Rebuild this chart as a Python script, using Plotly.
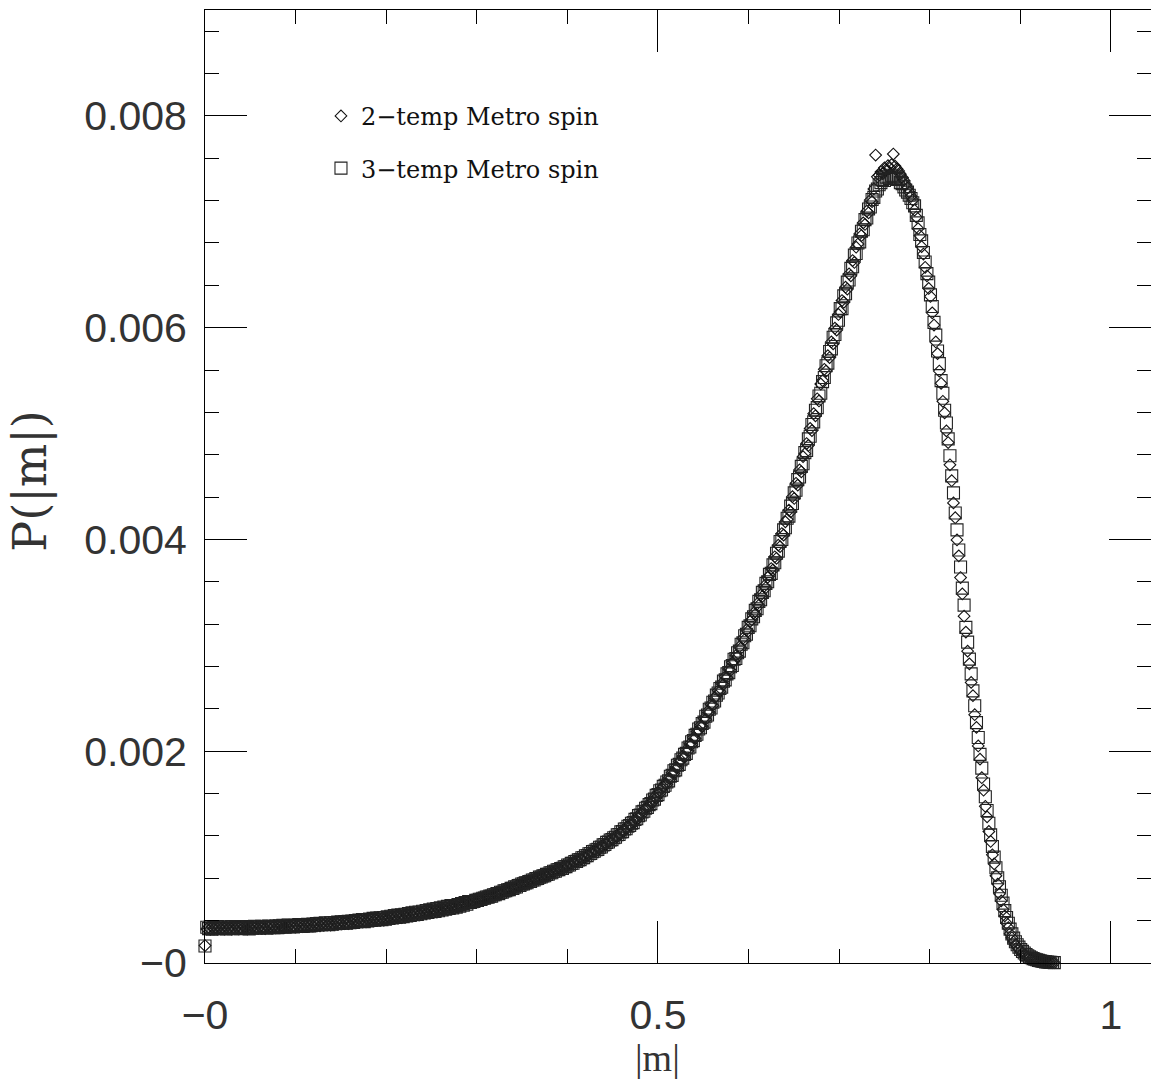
import plotly.graph_objects as go

# |M| = total magnetisation of a 32x32 (1024-spin) lattice; |m| = |M| / 1024
M_values = list(range(0, 962, 2))
N_spins = 1024

# P(|m|), in units of 1e-6
p_2temp_e6 = [
    165, 322, 336, 318, 340, 327, 334, 321, 339, 325,
    336, 320, 341, 326, 333, 319, 338, 328, 342, 323,
    335, 324, 340, 329, 321, 337, 330, 343, 326, 338,
    328, 344, 331, 339, 325, 346, 333, 349, 336, 342,
    331, 347, 336, 352, 339, 333, 350, 342, 355, 338,
    352, 340, 358, 345, 361, 343, 356, 349, 364, 347,
    361, 349, 366, 354, 370, 351, 368, 358, 374, 360,
    372, 358, 378, 363, 384, 366, 381, 370, 388, 373,
    386, 372, 392, 377, 398, 382, 396, 385, 403, 388,
    402, 389, 409, 394, 415, 398, 413, 402, 420, 406,
    421, 405, 428, 412, 434, 416, 439, 421, 444, 427,
    445, 429, 451, 436, 458, 440, 463, 446, 469, 452,
    471, 455, 478, 461, 486, 467, 492, 473, 499, 480,
    501, 484, 509, 491, 517, 498, 525, 505, 532, 512,
    535, 517, 546, 526, 557, 537, 567, 548, 578, 561,
    576, 574, 586, 584, 597, 595, 607, 605, 618, 620,
    627, 624, 638, 636, 650, 648, 662, 660, 674, 677,
    686, 684, 699, 697, 712, 709, 726, 723, 739, 741,
    751, 749, 765, 762, 778, 775, 791, 788, 804, 806,
    817, 813, 831, 828, 845, 842, 859, 857, 874, 876,
    886, 884, 902, 899, 918, 914, 934, 931, 950, 953,
    967, 963, 986, 982, 1005, 1001, 1024, 1020, 1043, 1047,
    1062, 1058, 1084, 1079, 1106, 1101, 1128, 1124, 1150, 1155,
    1172, 1168, 1199, 1194, 1226, 1222, 1253, 1248, 1280, 1286,
    1307, 1302, 1342, 1336, 1377, 1371, 1412, 1406, 1447, 1455,
    1482, 1477, 1525, 1519, 1567, 1560, 1609, 1603, 1651, 1660,
    1692, 1686, 1745, 1738, 1797, 1790, 1849, 1843, 1902, 1912,
    1953, 1946, 2012, 2004, 2070, 2063, 2128, 2121, 2186, 2197,
    2243, 2235, 2310, 2302, 2376, 2368, 2442, 2434, 2508, 2521,
    2573, 2565, 2640, 2631, 2706, 2697, 2772, 2763, 2838, 2851,
    2903, 2894, 2985, 2975, 3065, 3055, 3145, 3135, 3225, 3242,
    3304, 3293, 3390, 3378, 3474, 3462, 3558, 3546, 3642, 3660,
    3725, 3712, 3836, 3822, 3946, 3932, 4056, 4042, 4166, 4190,
    4276, 4260, 4404, 4387, 4530, 4513, 4656, 4639, 4782, 4810,
    4906, 4888, 5048, 5028, 5188, 5168, 5328, 5308, 5468, 5500,
    5607, 5590, 5735, 5718, 5865, 5848, 5995, 5978, 6125, 6150,
    6256, 6240, 6382, 6365, 6508, 6490, 6634, 6616, 6760, 6790,
    6885, 6870, 6990, 6975, 7100, 7085, 7205, 7190, 7310, 7630,
    7425, 7440, 7470, 7455, 7510, 7490, 7530, 7505, 7540, 7640,
    7525, 7500, 7480, 7450, 7420, 7390, 7350, 7320, 7280, 7240,
    7205, 7110, 7045, 6935, 6870, 6765, 6695, 6570, 6490, 6370,
    6295, 6140, 6025, 5865, 5755, 5590, 5475, 5305, 5195, 5025,
    4915, 4705, 4555, 4345, 4205, 3995, 3845, 3640, 3485, 3275,
    3125, 2945, 2825, 2650, 2525, 2345, 2225, 2050, 1925, 1750,
    1632, 1480, 1380, 1242, 1148, 1022, 936, 824, 746, 654,
    586, 505, 445, 376, 334, 277, 238, 198, 172, 148,
    132, 109, 96, 79, 69, 56, 49, 39, 35, 28,
    25, 21, 17, 14, 12, 10, 8, 6, 5, 4,
    3,
]

p_3temp_e6 = [
    160, 338, 325, 342, 320, 335, 329, 344, 323, 337,
    326, 343, 322, 338, 329, 345, 324, 336, 330, 344,
    323, 339, 327, 345, 334, 322, 341, 331, 347, 328,
    343, 330, 347, 335, 341, 329, 350, 337, 345, 333,
    348, 334, 351, 340, 356, 337, 345, 359, 343, 353,
    341, 357, 346, 362, 351, 345, 363, 352, 366, 350,
    353, 369, 356, 372, 359, 375, 361, 366, 380, 364,
    362, 379, 366, 383, 370, 386, 374, 390, 377, 392,
    375, 393, 380, 397, 384, 402, 389, 405, 393, 410,
    391, 410, 396, 416, 401, 421, 405, 425, 410, 428,
    410, 430, 414, 436, 420, 441, 425, 447, 431, 452,
    433, 455, 438, 461, 444, 467, 450, 473, 456, 479,
    458, 482, 465, 489, 472, 496, 478, 503, 485, 509,
    488, 514, 494, 521, 501, 528, 508, 535, 515, 542,
    520, 542, 528, 553, 537, 562, 546, 572, 556, 580,
    572, 580, 581, 591, 591, 602, 601, 612, 613, 623,
    622, 632, 632, 644, 644, 656, 655, 668, 668, 681,
    682, 692, 693, 705, 705, 719, 718, 732, 733, 746,
    747, 757, 758, 770, 771, 784, 784, 797, 798, 811,
    812, 823, 824, 837, 838, 852, 852, 866, 867, 881,
    882, 893, 894, 909, 910, 925, 925, 941, 942, 958,
    960, 974, 976, 994, 995, 1013, 1014, 1032, 1034, 1052,
    1055, 1070, 1073, 1093, 1096, 1116, 1119, 1139, 1142, 1162,
    1165, 1183, 1187, 1211, 1214, 1238, 1241, 1265, 1268, 1292,
    1298, 1320, 1326, 1356, 1362, 1392, 1397, 1427, 1433, 1462,
    1470, 1496, 1505, 1540, 1548, 1583, 1590, 1626, 1634, 1668,
    1678, 1710, 1720, 1763, 1772, 1815, 1824, 1867, 1876, 1920,
    1935, 1970, 1980, 2030, 2040, 2090, 2100, 2150, 2160, 2210,
    2222, 2262, 2275, 2330, 2342, 2396, 2408, 2462, 2474, 2530,
    2550, 2592, 2605, 2662, 2674, 2730, 2742, 2798, 2810, 2868,
    2875, 2930, 2945, 3010, 3025, 3090, 3105, 3170, 3185, 3250,
    3270, 3330, 3345, 3415, 3430, 3500, 3515, 3585, 3600, 3670,
    3680, 3760, 3780, 3870, 3890, 3980, 4000, 4090, 4110, 4200,
    4220, 4315, 4340, 4440, 4465, 4565, 4590, 4690, 4715, 4820,
    4840, 4950, 4975, 5085, 5110, 5220, 5245, 5355, 5380, 5490,
    5530, 5640, 5665, 5775, 5800, 5910, 5935, 6045, 6070, 6180,
    6180, 6300, 6320, 6430, 6450, 6560, 6575, 6685, 6700, 6800,
    6810, 6910, 6925, 7020, 7035, 7120, 7140, 7210, 7230, 7290,
    7310, 7350, 7370, 7400, 7390, 7420, 7430, 7410, 7440, 7420,
    7430, 7400, 7410, 7370, 7360, 7330, 7300, 7280, 7250, 7220,
    7180, 7150, 7060, 6990, 6880, 6820, 6710, 6620, 6510, 6430,
    6310, 6200, 6050, 5930, 5780, 5660, 5500, 5380, 5220, 5100,
    4950, 4790, 4600, 4440, 4250, 4090, 3900, 3740, 3540, 3380,
    3170, 3030, 2870, 2730, 2570, 2430, 2270, 2130, 1970, 1840,
    1690, 1570, 1440, 1320, 1210, 1100, 1000, 900, 805, 720,
    640, 565, 495, 430, 375, 320, 275, 235, 200, 172,
    150, 128, 110, 94, 80, 68, 58, 49, 41, 35,
    30, 25, 21, 17, 14, 11, 9, 7, 6, 5,
    4,
]

series_names = ["2\u2212temp Metro spin", "3\u2212temp Metro spin"]
x_tickvals = [0, 0.5, 1]
x_ticktext = ["\u22120", "0.5", "1"]
y_tickvals = [0, 0.002, 0.004, 0.006, 0.008]
y_ticktext = ["\u22120", "0.002", "0.004", "0.006", "0.008"]
x_title = "|m|"
y_title = "P(|m|)"

m_abs = [M / N_spins for M in M_values]
p_2temp = [v / 1e6 for v in p_2temp_e6]
p_3temp = [v / 1e6 for v in p_3temp_e6]

fig = go.Figure()
fig.add_trace(go.Scatter(
    x=m_abs[:len(p_2temp)], y=p_2temp, mode="markers", name=series_names[0],
    legendgroup="a", cliponaxis=False,
    marker=dict(symbol="diamond-open", size=9, color="#111", line=dict(width=1.1, color="#111")),
))
fig.add_trace(go.Scatter(
    x=m_abs[:len(p_3temp)], y=p_3temp, mode="markers", name=series_names[1],
    legendgroup="b", cliponaxis=False,
    marker=dict(symbol="square-open", size=12, color="#222", line=dict(width=1.1, color="#222")),
))

tickfont = dict(family="Liberation Sans", size=41, color="#333")
axis_common = dict(
    showline=True, linecolor="black", linewidth=1, mirror="allticks",
    ticks="inside", ticklen=42, tickwidth=1, tickcolor="black",
    showgrid=False, zeroline=False, tickfont=tickfont, tickmode="array",
)

fig.update_layout(
    width=1151, height=1085,
    margin=dict(l=205, r=0, t=10, b=122),
    paper_bgcolor="white", plot_bgcolor="white",
    showlegend=True,
    legend=dict(
        x=0.1226, y=0.912, xanchor="left", yanchor="top",
        font=dict(family="DejaVu Serif", size=24, color="#111"),
        bgcolor="rgba(0,0,0,0)", tracegroupgap=18,
    ),
    xaxis=dict(
        **axis_common, range=[0, 1.0442],
        tickvals=x_tickvals, ticktext=x_ticktext, ticklabelstandoff=16,
        minor=dict(tick0=0, dtick=0.1, ticks="inside", ticklen=14, tickwidth=1, tickcolor="black"),
    ),
    yaxis=dict(
        **axis_common, range=[0, 0.009],
        tickvals=y_tickvals, ticktext=y_ticktext, ticklabelstandoff=9,
        minor=dict(tick0=0, dtick=0.0004, ticks="inside", ticklen=14, tickwidth=1, tickcolor="black"),
    ),
    annotations=[
        dict(text=x_title, xref="x", x=0.5, yref="paper", y=0, yshift=-72,
             xanchor="center", yanchor="top", showarrow=False,
             font=dict(family="Liberation Serif", size=38, color="#333")),
        dict(text=y_title, xref="paper", x=0, xshift=-204, yref="paper", y=0.505,
             xanchor="left", yanchor="middle", textangle=-90, showarrow=False,
             font=dict(family="DejaVu Serif", size=46, color="#333")),
    ],
)

fig.write_html("out.html")
